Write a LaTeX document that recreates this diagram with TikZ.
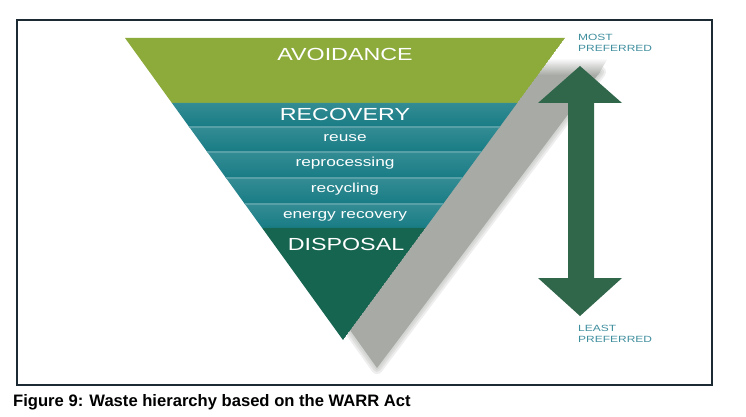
\documentclass[tikz,border=0pt]{standalone}
\usepackage{fontspec}
\setmainfont{Liberation Sans}
\newfontfamily\widesf[FakeStretch=1.33]{Liberation Sans}
\usetikzlibrary{calc}

\definecolor{avoidgreen}{RGB}{141,171,59}
\definecolor{recoveryteal}{RGB}{24,124,133}
\definecolor{septeal}{RGB}{88,160,168}
\definecolor{disposalgreen}{RGB}{22,101,80}
\definecolor{arrowgreen}{RGB}{48,102,74}
\definecolor{shadowgray}{RGB}{167,170,165}
\definecolor{labelteal}{RGB}{63,142,158}
\definecolor{framecol}{RGB}{27,42,51}

\begin{document}
\begin{tikzpicture}[
  x=1pt, y=-1pt,
  every node/.style={inner sep=0pt, text=white},
  sep/.style={draw=septeal, line width=2.5pt},
  bigtext/.style={font=\widesf\fontsize{17.5}{17.5}\selectfont},
  smalltext/.style={font=\widesf\fontsize{13}{13}\selectfont},
  sidetext/.style={font=\widesf\fontsize{9}{11.5}\selectfont, text=labelteal,
                   anchor=north west, align=left},
  softshadow/.style={draw=shadowgray, line width=#1, line join=round, opacity=0.2}
]

\fill[white] (0,0) rectangle (746,417);
\useasboundingbox (0,0) rectangle (746,417);

\coordinate (tl) at (125,38);
\coordinate (tr) at (565,38);
\coordinate (apex) at (343,340);

\foreach \w in {12,8,4}
  \draw[softshadow=\w pt] (520,72) -- (600,72) -- (377,368) -- (350,330) -- cycle;
\fill[shadowgray] (520,72) -- (600,72) -- (377,368) -- (350,330) -- cycle;
\shade[top color=white, bottom color=shadowgray] (520,58) -- (608,58) -- (598,75) -- (520,75) -- cycle;

\foreach \n/\t in {a/0.215, b/0.295, c/0.377, d/0.464, e/0.550, f/0.629} {
  \coordinate (l\n) at ($(tl)!\t!(apex)$);
  \coordinate (r\n) at ($(tr)!\t!(apex)$);
}

\begin{scope}
  \clip (tl) -- (tr) -- (apex) -- cycle;
  \fill[avoidgreen] (tl) -- (tr) -- (ra) -- (la) -- cycle;
  \foreach \p/\q in {a/b, b/c, c/d, d/e, e/f}
    \shade[top color=recoveryteal!88!white, bottom color=recoveryteal]
      ($(l\p)+(-5,0)$) -- ($(r\p)+(5,0)$) -- ($(r\q)+(5,0)$) -- ($(l\q)+(-5,0)$) -- cycle;
  \foreach \n in {b,c,d,e}
    \draw[sep] ($(l\n)+(-5,0)$) -- ($(r\n)+(5,0)$);
  \fill[disposalgreen] (lf) -- (rf) -- (apex) -- cycle;
\end{scope}

\node[bigtext] (avoid) at (345,54) {AVOIDANCE};
\node[bigtext] (recov) at (345,114) {RECOVERY};
\node[smalltext] (reuse) at (345,138) {reuse};
\node[smalltext] (reproc) at (345,163) {reprocessing};
\node[smalltext] (recyc) at (345,189) {recycling};
\node[smalltext] (energy) at (345,216) {energy recovery};
\node[bigtext] (disp) at (346,244) {DISPOSAL};

\fill[arrowgreen] (580,66) -- (622,103) -- (594,103) -- (594,278) -- (622,278)
  -- (580,316) -- (538,278) -- (568,278) -- (568,103) -- (538,103) -- cycle;

\node[sidetext] (most) at (578,34) {MOST\\PREFERRED};
\node[sidetext] (least) at (578,325) {LEAST\\PREFERRED};

\draw[framecol, line width=1.3pt] (17,20) rectangle (712,385);

\node[anchor=base west, text=black, font=\bfseries\fontsize{16.6}{16.6}\selectfont]
  (caption) at (13,406) {Figure 9: Waste hierarchy based on the WARR Act};

\end{tikzpicture}
\end{document}
